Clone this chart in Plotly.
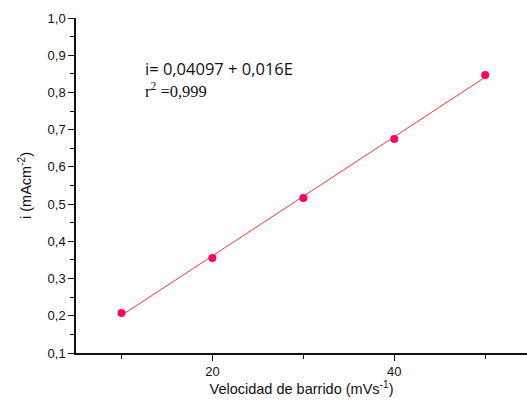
import plotly.graph_objects as go

# Scan rate (mV/s) and peak current density (mA/cm^2)
scan_rate = [10, 20, 30, 40, 50]
current = [0.2075, 0.355, 0.5165, 0.675, 0.847]

# Linear fit reported on the chart
intercept = 0.04097
slope = 0.016
fit_x = [10, 50]
fit_y = [intercept + slope * x for x in fit_x]

fig = go.Figure()
fig.add_trace(go.Scatter(x=fit_x, y=fit_y, mode="lines",
                         line=dict(color="#ff3333", width=1), showlegend=False))
fig.add_trace(go.Scatter(x=scan_rate, y=current, mode="markers",
                         marker=dict(color="#ff0066", size=8), showlegend=False))

axis_font = dict(family="Arial, Liberation Sans", size=13, color="#111")
title_font = dict(family="Arial, Liberation Sans", size=14.5, color="#111")
fig.update_layout(
    width=527, height=404,
    margin=dict(l=76, r=0, t=18, b=51),
    plot_bgcolor="white", paper_bgcolor="white",
    separators=",.",
    xaxis=dict(range=[5, 54.6], tickvals=[20, 40], ticks="outside", ticklen=6,
               tickwidth=1.3, tickcolor="#111", showline=True, linecolor="#111",
               linewidth=1.5, showgrid=False, zeroline=False, tickfont=axis_font,
               minor=dict(tickvals=[10, 30, 50], ticks="outside", ticklen=4,
                          tickwidth=1.3, tickcolor="#111"),
               title=dict(text="Velocidad de barrido (mVs<sup>-1</sup>)",
                          font=title_font, standoff=3)),
    yaxis=dict(range=[0.1, 1.0], dtick=0.1, tick0=0.1, tickformat=".1f",
               ticks="outside", ticklen=6, tickwidth=1.3, tickcolor="#111",
               showline=True, linecolor="#111", linewidth=1.5, showgrid=False,
               zeroline=False, tickfont=axis_font,
               minor=dict(dtick=0.05, tick0=0.05, ticks="outside", ticklen=4,
                          tickwidth=1.3, tickcolor="#111"),
               title=dict(text="i (mAcm<sup>-2</sup>)", font=title_font, standoff=12)),
)

# Regression equation and coefficient of determination
fig.add_annotation(x=(143 - 76) / 451, y=(353 - 68) / 335, xref="paper", yref="paper",
                   text="i= 0,04097 + 0,016E", showarrow=False, xanchor="left",
                   yanchor="middle",
                   font=dict(family="Open Sans, Lato", size=16.5, color="#111"))
fig.add_annotation(x=(143 - 76) / 451, y=(353 - 90) / 335, xref="paper", yref="paper",
                   text="r<sup>2</sup> =0,999", showarrow=False, xanchor="left",
                   yanchor="middle",
                   font=dict(family="Liberation Serif, Times New Roman", size=16.5,
                             color="#111"))

fig.write_html("out.html")
